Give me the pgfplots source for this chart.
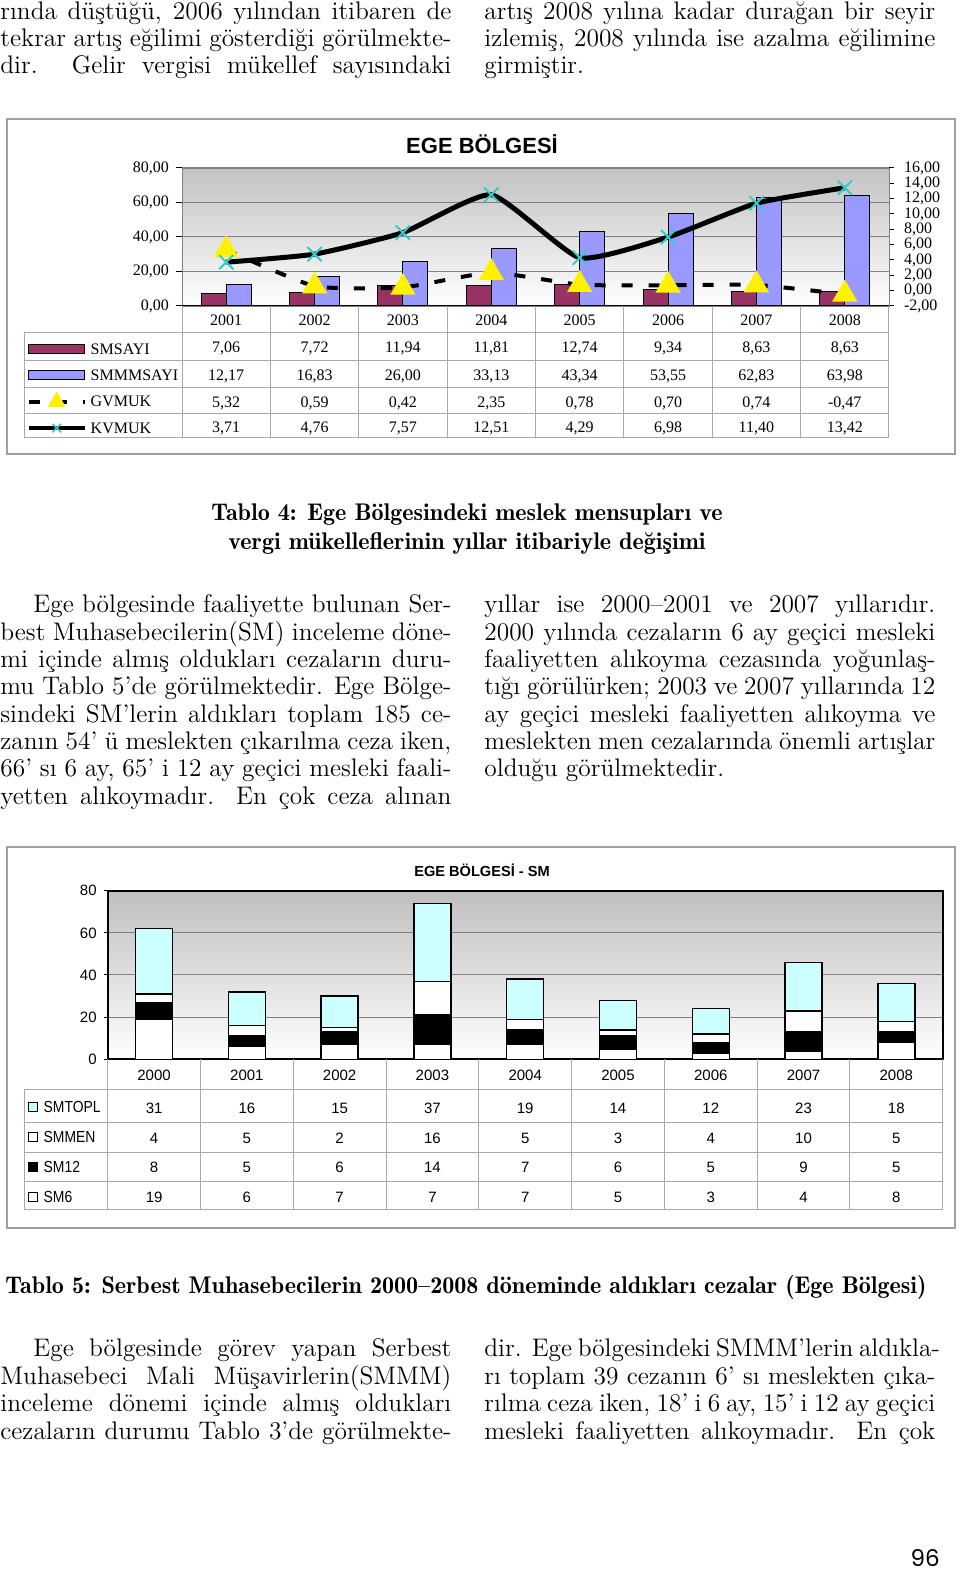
\documentclass[border=0pt]{standalone}
\usepackage{fontspec}
\usepackage{pgfplots}
\pgfplotsset{compat=1.18}
\newfontfamily\tnr{Liberation Serif}
\newfontfamily\arial{Liberation Sans}
\newfontfamily\arialn[FakeStretch=0.87]{Liberation Sans}
\newfontfamily\capfont{lmromandemi10-regular.otf}
\newfontfamily\pgfont{Poppins}
\definecolor{smsayi}{HTML}{993366}
\definecolor{smmm}{HTML}{9999FF}
\definecolor{kvcyan}{HTML}{33CCCC}
\definecolor{topl}{HTML}{CCFFFF}
\definecolor{framec}{HTML}{A0A0A0}
\definecolor{tline}{HTML}{A8A8A8}
\newcommand\bodyfs{\fontsize{12.7pt}{13.6pt}\selectfont}
\newcommand\capfs{\capfont\fontsize{12.05pt}{13pt}\selectfont}
\newcommand\jl[4]{\node[anchor=base west,inner sep=0pt,font=\bodyfs] at (#1,#2) {\makebox[\dimexpr #3pt/2\relax][s]{#4}};}
\newcommand\txl[3]{\node[anchor=base west,inner sep=0pt,font=\bodyfs] at (#1,#2) {#3};}
\newcommand\serifs{\tnr\fontsize{8pt}{9pt}\selectfont}
\newcommand\sanss{\arial\fontsize{7.5pt}{9pt}\selectfont}
\pgfplotsset{
 barkey/.style={legend image code/.code={\draw[##1] (0pt,-2.25pt) rectangle (28pt,2.25pt);}},
 linekey/.style={legend image code/.code={\draw[mark repeat=2,mark phase=2,##1] plot coordinates {(0pt,0pt) (14pt,0pt) (28pt,0pt)};}},
 sqkey/.style={legend image code/.code={\draw[##1] (0pt,-2.25pt) rectangle (4.5pt,2.25pt);}},
}
\begin{document}
\begin{tikzpicture}[x=0.5pt,y=0.5pt]
\path[use as bounding box, fill=white] (0,0) rectangle (960,1574);
% ---------- top text
\jl{0}{1554}{451}{rında düştüğü, 2006 yılından itibaren de}
\jl{0}{1527}{451}{tekrar artış eğilimi gösterdiği görülmekte-}
\jl{0}{1500}{451}{dir. Gelir vergisi mükellef sayısındaki}
\jl{484}{1554}{451}{artış 2008 yılına kadar durağan bir seyir}
\jl{484}{1527}{451}{izlemiş, 2008 yılında ise azalma eğilimine}
\txl{484}{1500}{girmiştir.}
% ---------- chart 1
\draw[framec, line width=1pt] (7,1120) rectangle (955,1455);
\node[font=\arial\bfseries\fontsize{11pt}{12pt}\selectfont, inner sep=0pt] at (482,1429.5) {EGE BÖLGESİ};
\begin{axis}[
  at={(91pt,634pt)}, anchor=south west, scale only axis,
  width=353.5pt, height=69pt,
  xmin=0.5, xmax=8.5, ymin=0, ymax=80,
  ybar=0pt, bar width=12.5pt,
  axis line style={draw=gray},
  xtick={1,...,8}, xticklabels={2001,2002,2003,2004,2005,2006,2007,2008},
  xtick pos=left, ytick pos=left,
  major x tick style={draw=none},
  tick align=outside, major tick length=3pt,
  ytick={0,20,...,80},
  ymajorgrids, grid style={gray, line width=0.5pt},
  tick style={black, line width=0.5pt},
  /pgf/number format/assume math mode=true,
  yticklabel style={font=\serifs, /pgf/number format/.cd, fixed, fixed zerofill, precision=2, use comma},
  xticklabel style={font=\serifs, yshift=2pt},
  extra x ticks={0.5,1.5,...,8.5}, extra x tick labels={},
  extra x tick style={grid=none, tick align=outside, major tick length=66pt, major x tick style={draw=tline, line width=0.5pt}},
  axis background/.style={top color=black!24, bottom color=white},
]
\addplot[fill=smsayi, draw=black, line width=0.5pt] coordinates {(1,7.06)(2,7.72)(3,11.94)(4,11.81)(5,12.74)(6,9.34)(7,8.63)(8,8.63)};
\addplot[fill=smmm, draw=black, line width=0.5pt] coordinates {(1,12.17)(2,16.83)(3,26.00)(4,33.13)(5,43.34)(6,53.55)(7,62.83)(8,63.98)};
\draw[black, line width=0.75pt] (axis cs:0.5,0) -- (axis cs:8.5,0);
\end{axis}
\begin{axis}[
  at={(91pt,634pt)}, anchor=south west, scale only axis,
  width=353.5pt, height=69pt,
  xmin=0.5, xmax=8.5, ymin=-2, ymax=16,
  axis x line=none, axis y line*=right,
  y axis line style={draw=gray},
  ytick={-2,0,...,16},
  tick align=outside, major tick length=2.5pt,
  tick style={black, line width=0.5pt},
  /pgf/number format/assume math mode=true,
  yticklabel style={font=\serifs, xshift=1.5pt, /pgf/number format/.cd, fixed, fixed zerofill, precision=2, use comma},
  legend style={at={(-0.2196,-0.2174)}, anchor=north west, draw=none, fill=none, inner sep=0pt, outer sep=0pt, column sep=2pt, row sep=0pt, font=\serifs, nodes={inner sep=0pt, text height=9.2pt, text depth=3.95pt}},
  legend cell align=left,
]
\addplot[forget plot, black, line width=2pt, dash pattern=on 5.5pt off 8pt, smooth, tension=0.3, mark=triangle*, mark size=5.3pt, mark options={solid, fill=yellow, draw=yellow}] coordinates {(1,5.32)(2,0.59)(3,0.42)(4,2.35)(5,0.78)(6,0.70)(7,0.74)(8,-0.47)};
\addplot[forget plot, black, line width=2.5pt, smooth, tension=0.3, mark=x, mark size=5pt, mark options={draw=kvcyan, line width=1pt}] coordinates {(1,3.71)(2,4.76)(3,7.57)(4,12.51)(5,4.29)(6,6.98)(7,11.40)(8,13.42)};
\addlegendimage{barkey, fill=smsayi, draw=black, line width=0.5pt}
\addlegendentry{SMSAYI}
\addlegendimage{barkey, fill=smmm, draw=black, line width=0.5pt}
\addlegendentry{SMMMSAYI}
\addlegendimage{linekey, black, line width=2pt, dash pattern=on 5.5pt off 8pt, mark=triangle*, mark size=3.2pt, mark options={solid, fill=yellow, draw=yellow}}
\addlegendentry{GVMUK}
\addlegendimage{linekey, black, line width=2pt, mark=x, mark size=3pt, mark options={draw=kvcyan, line width=0.8pt}}
\addlegendentry{KVMUK}
\end{axis}
\foreach \yy in {1241,1213.3,1186.3,1160,1136} \draw[tline, line width=0.5pt] (24,\yy) -- (889,\yy);
\draw[tline, line width=0.5pt] (24,1241) -- (24,1136);
\foreach \v [count=\i] in {7{,}06,7{,}72,11{,}94,11{,}81,12{,}74,9{,}34,8{,}63,8{,}63}
  \node[font=\serifs, anchor=base, inner sep=0pt] at ({182+88.375*(\i-0.5)},1221) {\v};
\foreach \v [count=\i] in {12{,}17,16{,}83,26{,}00,33{,}13,43{,}34,53{,}55,62{,}83,63{,}98}
  \node[font=\serifs, anchor=base, inner sep=0pt] at ({182+88.375*(\i-0.5)},1193.6) {\v};
\foreach \v [count=\i] in {5{,}32,0{,}59,0{,}42,2{,}35,0{,}78,0{,}70,0{,}74,-0{,}47}
  \node[font=\serifs, anchor=base, inner sep=0pt] at ({182+88.375*(\i-0.5)},1166.6) {\v};
\foreach \v [count=\i] in {3{,}71,4{,}76,7{,}57,12{,}51,4{,}29,6{,}98,11{,}40,13{,}42}
  \node[font=\serifs, anchor=base, inner sep=0pt] at ({182+88.375*(\i-0.5)},1141.1) {\v};
% ---------- caption 4
\node[anchor=base, inner sep=0pt, font=\capfs] at (467,1053) {Tablo 4: Ege Bölgesindeki meslek mensupları ve};
\node[anchor=base, inner sep=0pt, font=\capfs] at (467,1024) {vergi mükelleflerinin yıllar itibariyle değişimi};
% ---------- middle text
\jl{33}{961}{418}{Ege bölgesinde faaliyette bulunan Ser-}
\jl{0}{933.7}{451}{best Muhasebecilerin(SM) inceleme döne-}
\jl{0}{906.4}{451}{mi içinde almış oldukları cezaların duru-}
\jl{0}{879.1}{451}{mu Tablo 5’de görülmektedir. Ege Bölge-}
\jl{0}{851.8}{451}{sindeki SM’lerin aldıkları toplam 185 ce-}
\jl{0}{824.5}{451}{zanın 54’ ü meslekten çıkarılma ceza iken,}
\jl{0}{797.2}{451}{66’ sı 6 ay, 65’ i 12 ay geçici mesleki faali-}
\jl{0}{769.9}{451}{yetten alıkoymadır. En çok ceza alınan}
\jl{484}{961}{451}{yıllar ise 2000–2001 ve 2007 yıllarıdır.}
\jl{484}{933.7}{451}{2000 yılında cezaların 6 ay geçici mesleki}
\jl{484}{906.4}{451}{faaliyetten alıkoyma cezasında yoğunlaş-}
\jl{484}{879.1}{451}{tığı görülürken; 2003 ve 2007 yıllarında 12}
\jl{484}{851.8}{451}{ay geçici mesleki faaliyetten alıkoyma ve}
\jl{484}{824.5}{451}{meslekten men cezalarında önemli artışlar}
\txl{484}{797.2}{olduğu görülmektedir.}
% ---------- chart 2
\draw[framec, line width=1pt] (7,346) rectangle (955,727);
\node[font=\arial\bfseries\fontsize{7.3pt}{9pt}\selectfont, inner sep=0pt] at (482,704) {EGE BÖLGESİ - SM};
\begin{axis}[
  at={(53.85pt,257.35pt)}, anchor=south west, scale only axis,
  width=417.5pt, height=84.3pt,
  xmin=0.5, xmax=9.5, ymin=0, ymax=80,
  ybar stacked, bar width=18.5pt,
  axis line style={draw=black, line width=0.9pt},
  xtick={1,...,9}, xticklabels={2000,2001,2002,2003,2004,2005,2006,2007,2008},
  xtick pos=left, ytick pos=left,
  major x tick style={draw=none},
  tick align=outside, major tick length=2pt,
  ytick={0,20,...,80},
  ymajorgrids, grid style={gray, line width=0.5pt},
  tick style={black, line width=0.5pt},
  /pgf/number format/assume math mode=true,
  yticklabel style={font=\sanss},
  xticklabel style={font=\sanss},
  extra x ticks={0.5,1.5,...,9.5}, extra x tick labels={},
  extra x tick style={grid=none, tick align=outside, major tick length=75.35pt, major x tick style={draw=tline, line width=0.5pt}},
  axis background/.style={top color=black!25, bottom color=white},
]
\addplot[fill=white, draw=black, line width=0.75pt] coordinates {(1,19)(2,6)(3,7)(4,7)(5,7)(6,5)(7,3)(8,4)(9,8)};
\addplot[fill=black, draw=black, line width=0.75pt] coordinates {(1,8)(2,5)(3,6)(4,14)(5,7)(6,6)(7,5)(8,9)(9,5)};
\addplot[fill=white, draw=black, line width=0.75pt] coordinates {(1,4)(2,5)(3,2)(4,16)(5,5)(6,3)(7,4)(8,10)(9,5)};
\addplot[fill=topl, draw=black, line width=0.75pt] coordinates {(1,31)(2,16)(3,15)(4,37)(5,19)(6,14)(7,12)(8,23)(9,18)};
\end{axis}
\begin{axis}[
  at={(53.85pt,257.35pt)}, anchor=south west, scale only axis,
  width=417.5pt, height=84.3pt,
  xmin=0, xmax=1, ymin=0, ymax=1, hide axis,
  legend style={at={(-0.09545,-0.1940)}, anchor=north west, draw=none, fill=none, inner sep=0pt, outer sep=0pt, column sep=2.85pt, row sep=0pt, font=\arialn\fontsize{8pt}{9pt}\selectfont, nodes={inner sep=0pt, text height=10.2pt, text depth=4.8pt}},
  legend cell align=left,
]
\addlegendimage{sqkey, fill=topl, draw=black, line width=0.5pt}
\addlegendentry{SMTOPL}
\addlegendimage{sqkey, fill=white, draw=black, line width=0.5pt}
\addlegendentry{SMMEN}
\addlegendimage{sqkey, fill=black, draw=black, line width=0.5pt}
\addlegendentry{SM12}
\addlegendimage{sqkey, fill=white, draw=black, line width=0.5pt}
\addlegendentry{SM6}
\end{axis}
\foreach \yy in {484,451.7,421.7,392.3,364} \draw[tline, line width=0.5pt] (24.3,\yy) -- (942.7,\yy);
\draw[tline, line width=0.5pt] (24.3,484) -- (24.3,364);
\foreach \v [count=\i] in {31,16,15,37,19,14,12,23,18}
  \node[font=\sanss, anchor=base, inner sep=0pt] at ({107.7+92.78*(\i-0.5)},460.4) {\v};
\foreach \v [count=\i] in {4,5,2,16,5,3,4,10,5}
  \node[font=\sanss, anchor=base, inner sep=0pt] at ({107.7+92.78*(\i-0.5)},430.8) {\v};
\foreach \v [count=\i] in {8,5,6,14,7,6,5,9,5}
  \node[font=\sanss, anchor=base, inner sep=0pt] at ({107.7+92.78*(\i-0.5)},401.1) {\v};
\foreach \v [count=\i] in {19,6,7,7,7,5,3,4,8}
  \node[font=\sanss, anchor=base, inner sep=0pt] at ({107.7+92.78*(\i-0.5)},371.1) {\v};
% ---------- caption 5
\node[anchor=base, inner sep=0pt, font=\capfs] at (466,280) {Tablo 5: Serbest Muhasebecilerin 2000–2008 döneminde aldıkları cezalar (Ege Bölgesi)};
% ---------- bottom text
\jl{33}{217}{418}{Ege bölgesinde görev yapan Serbest}
\jl{0}{189.5}{451}{Muhasebeci Mali Müşavirlerin(SMMM)}
\jl{0}{162}{451}{inceleme dönemi içinde almış oldukları}
\jl{0}{134.5}{451}{cezaların durumu Tablo 3’de görülmekte-}
\jl{484}{217}{451}{dir. Ege bölgesindeki SMMM’lerin aldıkla-}
\jl{484}{189.5}{451}{rı toplam 39 cezanın 6’ sı meslekten çıka-}
\jl{484}{162}{451}{rılma ceza iken, 18’ i 6 ay, 15’ i 12 ay geçici}
\jl{484}{134.5}{451}{mesleki faaliyetten alıkoymadır. En çok}
\node[anchor=base east, inner sep=0pt, font=\pgfont\fontsize{11.5pt}{13pt}\selectfont] at (940,8) {96};
\end{tikzpicture}
\end{document}
